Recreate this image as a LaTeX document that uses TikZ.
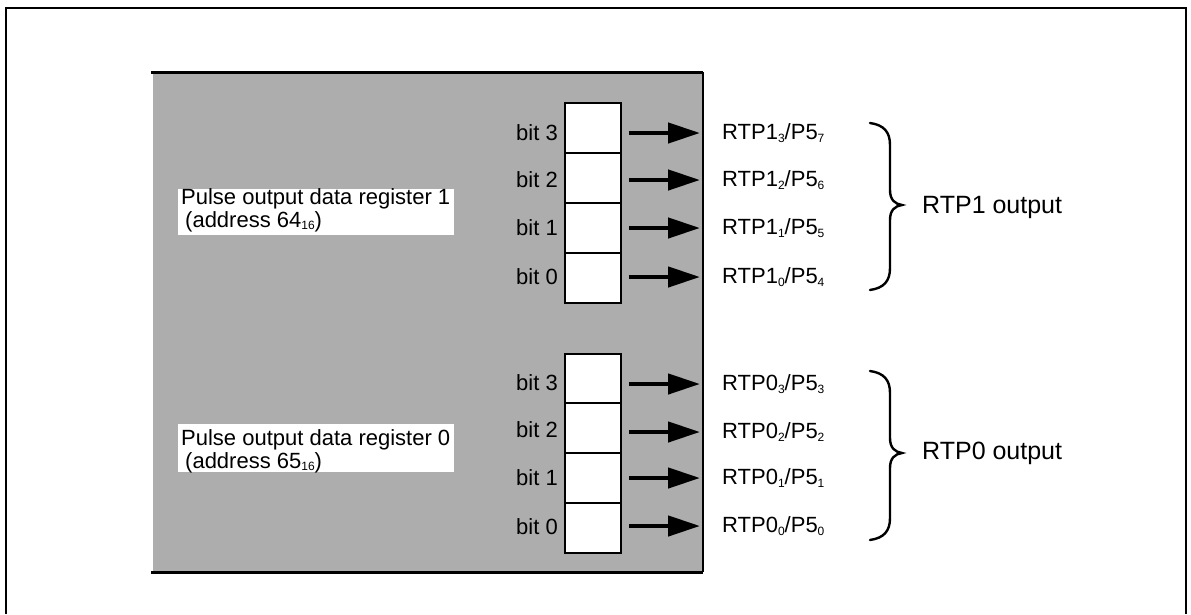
\documentclass[tikz,border=0pt]{standalone}
\usepackage{fontspec}
\setmainfont{Liberation Sans}
\usetikzlibrary{arrows.meta}
\newcommand\sbs[1]{\raisebox{-0.12em}{\fontsize{12}{12}\selectfont #1}}
\begin{document}
\begin{tikzpicture}[x=1pt,y=-1pt,
  txt/.style={font=\fontsize{22}{24}\selectfont, inner sep=0pt},
  regtxt/.style={font=\fontsize{22}{23}\selectfont, inner sep=0pt, anchor=west, align=left},
  bitlbl/.style={txt, anchor=east},
  pinlbl/.style={txt, anchor=west},
  outlbl/.style={inner sep=0pt, anchor=west, font=\fontsize{25}{28}\selectfont},
  cell/.style={draw, line width=1.8pt, fill=white, minimum width=56pt, minimum height=50pt, inner sep=0pt},
  arr/.style={line width=4.5pt, -{Triangle[length=32pt,width=20pt]}},
  brc/.style={line width=2.4pt, line cap=round},
  shade/.style={fill=black!32}
]
\useasboundingbox (0,0) rectangle (1191,614);
% outer frame
\draw[line width=2pt] (6,614) -- (6,8) -- (1186,8) -- (1186,614);
% shaded area
\fill[shade] (153,72) rectangle (703,572);
\draw[line width=3pt] (151,72) -- (703,72);
\draw[line width=3pt] (151,572) -- (703,572);
\draw[line width=1.8pt] (703,72) -- (703,572);
% register name boxes
\node[fill=white, minimum width=276pt, minimum height=46pt, inner sep=0pt] (r1box) at (316,212) {};
\node[regtxt] (r1) at (181,210) {Pulse output data register 1\\\hspace{4pt}(address 64\sbs{16})};
\node[fill=white, minimum width=276pt, minimum height=48pt, inner sep=0pt] (r0box) at (316,448) {};
\node[regtxt] (r0) at (181,451) {Pulse output data register 0\\\hspace{4pt}(address 65\sbs{16})};
% cells
\foreach \i/\y in {3/128,2/178,1/228,0/278}{
  \node[cell] (a\i) at (593,\y) {};
}
\foreach \i/\y in {3/353,2/402,1/452,0/502}{
  \node[cell, anchor=north] (b\i) at (593,\y) {};
}
% bit labels
\foreach \i/\y in {3/133,2/180,1/228,0/277}{
  \node[bitlbl] (ab\i) at (558,\y) {bit \i};
}
\foreach \i/\y in {3/383,2/430,1/478,0/527}{
  \node[bitlbl] (bb\i) at (558,\y) {bit \i};
}
% pin labels
\node[pinlbl] (p13) at (722,133) {RTP1\sbs{3}/P5\sbs{7}};
\node[pinlbl] (p12) at (722,180) {RTP1\sbs{2}/P5\sbs{6}};
\node[pinlbl] (p11) at (722,228) {RTP1\sbs{1}/P5\sbs{5}};
\node[pinlbl] (p10) at (722,277) {RTP1\sbs{0}/P5\sbs{4}};
\node[pinlbl] (p03) at (722,384) {RTP0\sbs{3}/P5\sbs{3}};
\node[pinlbl] (p02) at (722,432) {RTP0\sbs{2}/P5\sbs{2}};
\node[pinlbl] (p01) at (722,478) {RTP0\sbs{1}/P5\sbs{1}};
\node[pinlbl] (p00) at (722,526) {RTP0\sbs{0}/P5\sbs{0}};
% arrows
\foreach \i in {3,2,1,0}{
  \draw[arr] ([xshift=7pt]a\i.east |- p1\i.west) -- ([xshift=-22pt]p1\i.west);
  \draw[arr] ([xshift=7pt]b\i.east |- p0\i.west) -- ([xshift=-22pt]p0\i.west);
}
% braces
\coordinate (t1) at (902,205);
\draw[brc] (870,123) .. controls (884,125) and (890,132) .. (890,145)
  -- (890,190) .. controls (890,200) and (895,204) .. (t1)
  .. controls (895,206) and (890,210) .. (890,220)
  -- (890,268) .. controls (890,281) and (884,288) .. (870,290);
\coordinate (t0) at (902,453);
\draw[brc] (870,371) .. controls (884,373) and (890,380) .. (890,393)
  -- (890,438) .. controls (890,448) and (895,452) .. (t0)
  .. controls (895,454) and (890,458) .. (890,468)
  -- (890,518) .. controls (890,531) and (884,538) .. (870,540);
\node[outlbl] (o1) at ([xshift=20pt,yshift=-2pt]t1) {RTP1 output};
\node[outlbl] (o0) at ([xshift=20pt]t0) {RTP0 output};
\end{tikzpicture}
\end{document}
